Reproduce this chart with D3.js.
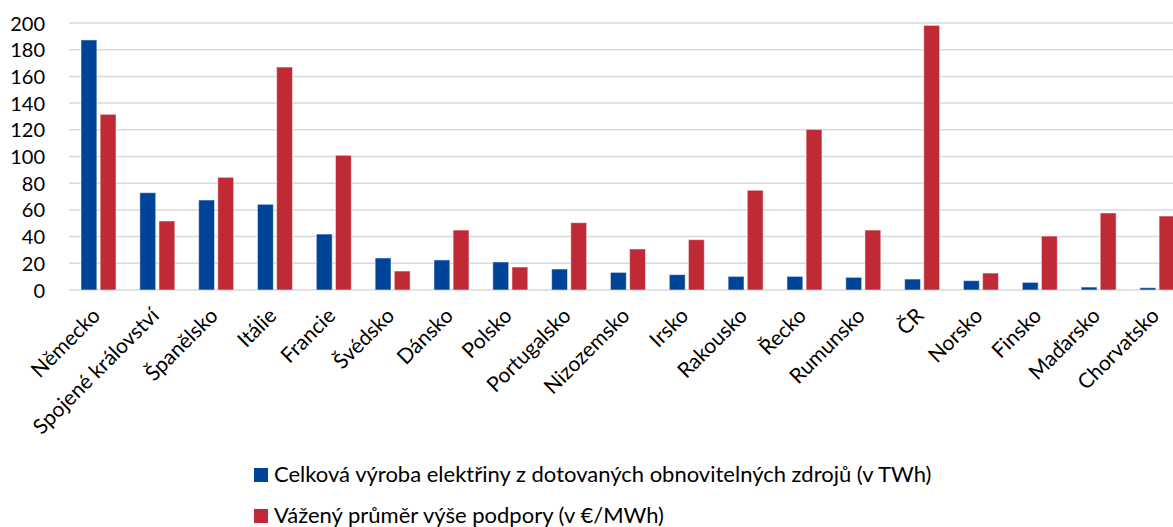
<!DOCTYPE html>
<html><head><meta charset="utf-8">
<script src="https://cdn.jsdelivr.net/npm/d3@7"></script>
<style>
html,body{margin:0;padding:0;background:#fff;}
svg{display:block;font-family:Lato,"Open Sans",sans-serif;}
</style></head>
<body><svg id="c" width="1173" height="527"></svg>
<script>
const categories = ["Německo","Spojené království","Španělsko","Itálie","Francie","Švédsko","Dánsko","Polsko","Portugalsko","Nizozemsko","Irsko","Rakousko","Řecko","Rumunsko","ČR","Norsko","Finsko","Maďarsko","Chorvatsko"];
const seriesNames = ["Celková výroba elektřiny z dotovaných obnovitelných zdrojů (v TWh)","Vážený průměr výše podpory (v €/MWh)"];
const production = [187.3,72.9,67.4,64.2,41.9,24.0,22.5,21.0,15.7,13.2,11.5,10.2,10.2,9.5,8.2,7.0,5.7,2.2,1.7];
const support = [131.6,51.7,84.4,167.0,100.9,14.2,44.9,17.2,50.4,30.7,37.7,74.7,120.3,44.9,198.2,12.7,40.4,57.7,55.4];
const yTicks = [0,20,40,60,80,100,120,140,160,180,200];
const colors = ["#00449A","#BF2A35"];

const svg = d3.select("#c");
const left = 69, band = 58.83;
const x0 = d3.scaleBand().domain(categories).range([left, left + band*categories.length]).paddingInner(0).paddingOuter(0);
const x1 = d3.scaleBand().domain([0,1]).range([12, 47]).paddingInner(3/35*2).paddingOuter(0);
const y = d3.scaleLinear().domain([0,200]).range([290,23]);

// gridlines
svg.append("g").selectAll("line").data(yTicks).join("line")
  .attr("x1", left).attr("x2", 1173)
  .attr("y1", d=>y(d)).attr("y2", d=>y(d))
  .attr("stroke","#D9D9D9").attr("stroke-width",1.5);

// y labels
const yAxis = d3.axisLeft(y).tickValues(yTicks).tickSize(0).tickPadding(0);
const ga = svg.append("g").attr("transform","translate(45,0)").call(yAxis);
ga.select(".domain").remove();
ga.selectAll("text").attr("font-family","Lato").attr("font-size",20).attr("fill","#000").attr("dy","0.35em");

// bars
const data = categories.map((c,i)=>({c, v:[production[i], support[i]]}));
const g = svg.append("g").selectAll("g").data(data).join("g")
  .attr("transform", d=>`translate(${x0(d.c)},0)`);
g.selectAll("rect").data(d=>d.v.map((v,k)=>({v,k}))).join("rect")
  .attr("x", d=>x1(d.k)).attr("width", x1.bandwidth())
  .attr("y", d=>y(d.v)).attr("height", d=>y(0)-y(d.v))
  .attr("fill", d=>colors[d.k])
  .attr("stroke","#fff").attr("stroke-opacity",0.5).attr("stroke-width",1);

// x labels
svg.append("g").selectAll("text").data(categories).join("text")
  .attr("transform", d=>`translate(${x0(d)+band/2+3},317) rotate(-45)`)
  .attr("text-anchor","end")
  .attr("font-size",21).attr("fill","#000")
  .text(d=>d);

// legend
const lg = svg.append("g").selectAll("g").data(seriesNames).join("g")
  .attr("transform",(d,i)=>`translate(254,${468+i*41})`);
lg.append("rect").attr("width",14).attr("height",14).attr("fill",(d,i)=>colors[i]);
lg.append("text").attr("x",20).attr("y",13.5).attr("font-size",22).attr("fill","#000").text(d=>d);
</script></body></html>
